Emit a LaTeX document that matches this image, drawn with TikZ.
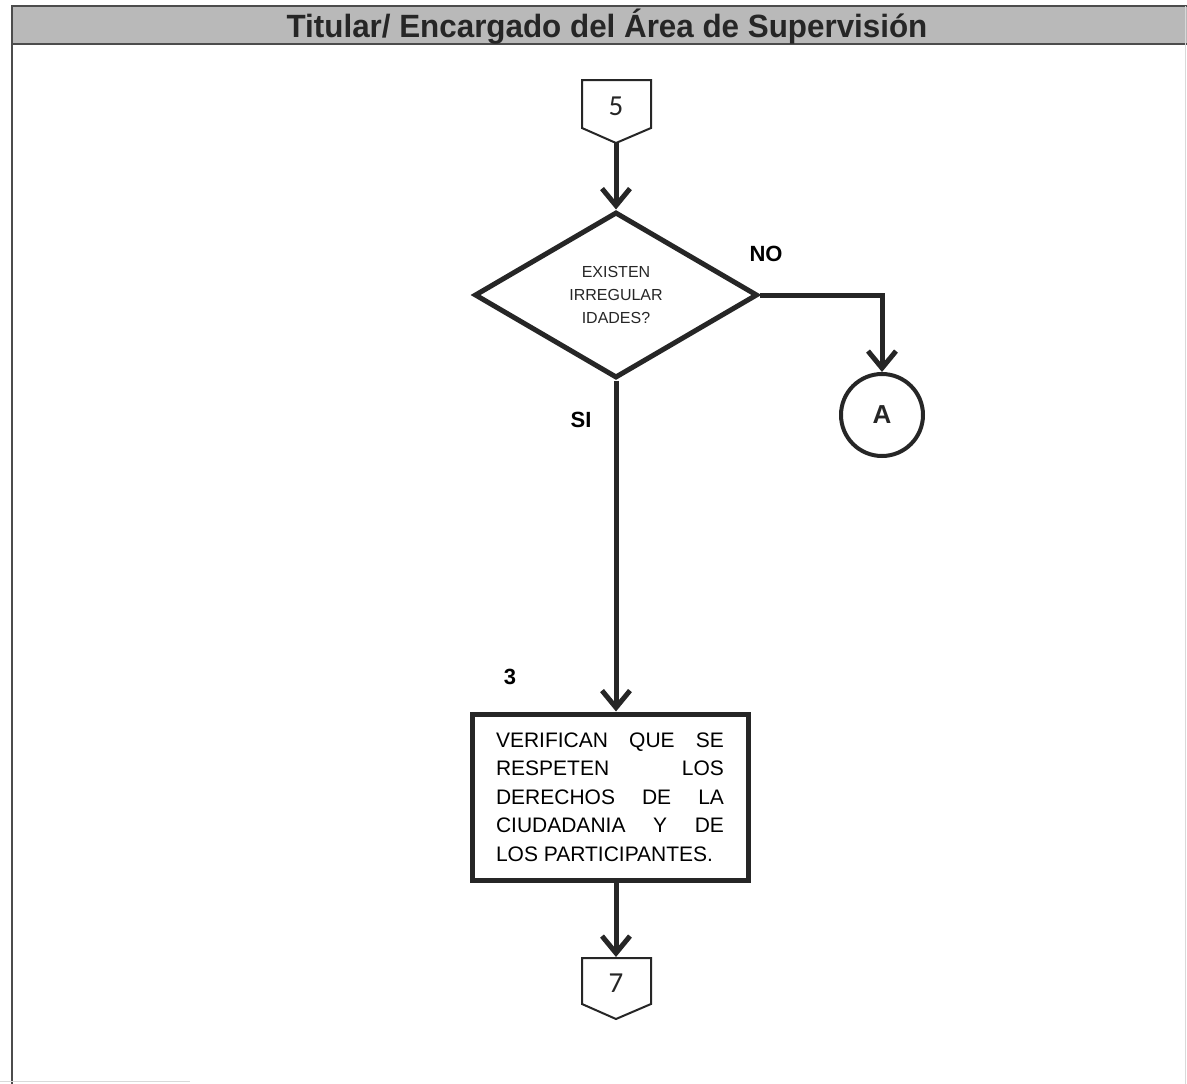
\documentclass[tikz,border=0pt]{standalone}
\usepackage{fontspec}
\setmainfont{Liberation Sans}
\newfontfamily\calfont{Carlito}
\usetikzlibrary{shapes.geometric,arrows.meta}
\begin{document}
\begin{tikzpicture}[x=1pt,y=-1pt,
  flow/.style={line width=5pt,draw=black!85,-{Straight Barb[length=17pt,width=28pt]}},
  shapeline/.style={draw=black!85,line width=5pt},
  conline/.style={draw=black!85,line width=2pt,line join=miter},
  lbl/.style={font=\fontsize{22}{24}\selectfont\bfseries,text=black}]
\useasboundingbox (0,0) rectangle (1187,1084);
% frame and header
\fill[gray!55] (12,6) rectangle (1187,44);
\draw[black!70,line width=2pt] (1187,6) -- (12,6) -- (12,1084);
\draw[black!70,line width=2pt] (12,44) -- (1187,44);
\draw[black!15,line width=1pt] (1185,6) -- (1185,1084);
\draw[black!15,line width=1pt] (0,1081) -- (190,1081);
\node[font=\fontsize{28}{30}\selectfont\bfseries,text=black!85,xscale=1.12,yscale=1.15] (title) at (607,27) {Titular/ Encargado del Área de Supervisión};
% connector 5
\draw[conline] (582,80) -- (651,80) -- (651,128) -- (616,143) -- (582,128) -- cycle;
\node[font=\calfont\fontsize{29}{30}\selectfont,text=black!85] (c5) at (616,106) {5};
\coordinate (c5tip) at (616,143);
% decision
\node[diamond,shapeline,minimum width=283pt,minimum height=166pt,inner sep=0pt,
  align=center,font=\fontsize{16}{23}\selectfont,text=black!85] (dec) at (616,295)
  {EXISTEN\\IRREGULAR\\IDADES?};
\draw[flow] (c5tip) -- (dec.north);
% NO branch
\node[circle,draw=black!85,line width=4pt,minimum size=82pt,inner sep=0pt,
  font=\fontsize{26}{28}\selectfont\bfseries,text=black!85] (A) at (882,415) {A};
\draw[flow] (dec.east) -| (A.north);
\node[lbl] (no) at (766,254) {NO};
% SI branch
\node[lbl] (si) at (581,420) {SI};
\node[lbl] (n3) at (510,677) {3};
\node[rectangle,shapeline,minimum width=276pt,minimum height=166pt,inner sep=0pt,
  text width=228pt,align=justify,font=\fontsize{21}{28.5}\selectfont,text=black] (box) at (610,797)
  {VERIFICAN QUE SE\linebreak RESPETEN LOS\linebreak DERECHOS DE LA\linebreak CIUDADANIA Y DE\linebreak LOS PARTICIPANTES.};
\draw[flow] (dec.south) -- (dec.south |- box.north);
% connector 7
\draw[conline] (582,958) -- (651,958) -- (651,1004) -- (616,1019) -- (582,1004) -- cycle;
\node[font=\calfont\fontsize{29}{30}\selectfont,text=black!85] (c7) at (616,983) {7};
\coordinate (c7top) at (616,957);
\draw[flow] (box.south -| c7top) -- (c7top);
\end{tikzpicture}
\end{document}
